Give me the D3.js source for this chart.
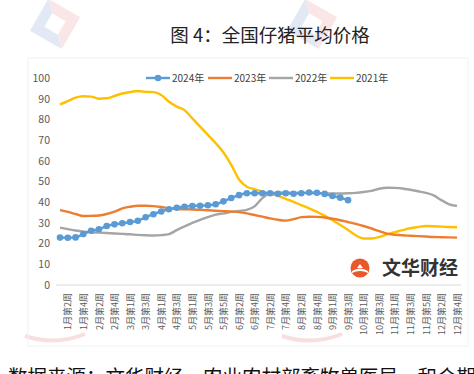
<!DOCTYPE html>
<html>
<head>
<meta charset="utf-8">
<script src="https://cdn.jsdelivr.net/npm/d3@7"></script>
<style>
  body { margin: 0; background: #fff; }
  svg { display: block; font-family: "Noto Sans CJK SC", "Noto Sans", sans-serif; }
</style>
</head>
<body>
<svg id="chart" width="474" height="374"></svg>
<script>
// weekly categories, only every other one carries a visible label
var weeks = [
  "1月第1周","1月第2周","1月第3周","1月第4周","2月第1周","2月第2周","2月第3周","2月第4周",
  "2月第5周","3月第1周","3月第2周","3月第3周","3月第4周","4月第1周","4月第2周","4月第3周",
  "4月第4周","5月第1周","5月第2周","5月第3周","5月第4周","5月第5周","6月第1周","6月第2周",
  "6月第3周","6月第4周","7月第1周","7月第2周","7月第3周","7月第4周","8月第1周","8月第2周",
  "8月第3周","8月第4周","8月第5周","9月第1周","9月第2周","9月第3周","9月第4周","10月第1周",
  "10月第2周","10月第3周","10月第4周","11月第1周","11月第2周","11月第3周","11月第4周","11月第5周",
  "12月第1周","12月第2周","12月第3周","12月第4周"
];
var yTicks = [0, 10, 20, 30, 40, 50, 60, 70, 80, 90, 100];

var v2024 = [22.9, 22.8, 23.0, 24.6, 26.2, 26.9, 28.5, 29.3, 29.8, 30.4, 31.0, 32.7, 34.2, 35.5, 36.6, 37.3,
  37.8, 38.2, 38.3, 38.5, 39.0, 40.4, 42.0, 43.4, 44.3, 44.3, 44.3, 44.3, 44.1, 44.3, 44.1, 44.3,
  44.7, 44.6, 44.0, 43.0, 42.2, 41.0];
var v2023 = [36.2, 35.3, 34.3, 33.3, 33.4, 33.6, 34.3, 35.4, 37.0, 37.8, 38.3, 38.3, 38.1, 37.7, 37.0, 36.7,
  36.6, 36.5, 36.3, 36.1, 35.9, 35.7, 35.5, 35.2, 34.6, 33.8, 33.0, 32.2, 31.5, 31.1, 31.8, 32.8,
  33.0, 32.9, 32.6, 32.0, 31.3, 30.4, 29.5, 28.5, 27.3, 26.0, 24.8, 24.3, 24.0, 23.8, 23.6, 23.4,
  23.2, 23.1, 23.0, 22.9];
var v2022 = [27.7, 27.0, 26.3, 25.8, 25.5, 25.3, 25.1, 24.9, 24.7, 24.5, 24.2, 24.0, 23.9, 24.1, 24.6, 26.5,
  28.3, 30.0, 31.5, 32.8, 34.0, 34.6, 35.3, 35.8, 36.3, 38.0, 42.0, 44.3, 44.6, 44.7, 44.6, 44.5,
  44.4, 44.3, 44.2, 44.2, 44.2, 44.3, 44.5, 44.9, 45.5, 46.5, 47.0, 46.9, 46.6, 46.0, 45.3, 44.5,
  43.3, 41.0, 39.0, 38.2];
var v2021 = [87.2, 88.8, 90.5, 91.2, 91.0, 90.0, 90.2, 91.3, 92.5, 93.2, 93.7, 93.3, 93.2, 91.8, 88.5, 86.2,
  84.5, 80.5, 76.5, 72.5, 68.5, 64.0, 58.0, 51.0, 47.5, 46.3, 45.2, 44.2, 43.0, 41.6, 40.2, 38.6,
  37.0, 35.3, 33.5, 31.3, 29.0, 26.6, 24.0, 22.5, 22.5, 23.2, 24.5, 25.5, 26.5, 27.4, 28.0, 28.5,
  28.4, 28.2, 28.0, 27.9];

var seriesNames = ["2024年", "2023年", "2022年", "2021年"];
var seriesColors = ["#5b9bd5", "#ed7d31", "#a5a5a5", "#ffc000"];
var series = [v2024, v2023, v2022, v2021];

var svg = d3.select("#chart");

// faint page watermarks
[[55, 24], [312, 24]].forEach(function(p) {
  var w = svg.append("g").attr("transform", "translate(" + p[0] + "," + p[1] + ") rotate(-15)").attr("opacity", 0.14);
  w.append("path").attr("d", "M0,-26 L26,0 L0,26 Z").attr("fill", "#e0505a");
  w.append("path").attr("d", "M0,-26 L-26,0 L0,26 Z").attr("fill", "#3c6cc0");
  w.append("path").attr("d", "M0,-11 L11,0 L0,11 L-11,0 Z").attr("fill", "#fff");
});
[[55, 336], [312, 336]].forEach(function(p) {
  svg.append("path")
    .attr("d", "M" + (p[0] - 30) + "," + p[1] + " Q" + p[0] + "," + (p[1] + 10) + " " + (p[0] + 30) + "," + (p[1] - 2))
    .attr("fill", "none").attr("stroke", "#f9dede").attr("stroke-width", 4);
});

// chart frame (very faint)
svg.append("rect")
  .attr("x", 28).attr("y", 58).attr("width", 440).attr("height", 288)
  .attr("fill", "none").attr("stroke", "#f2f2f2");

// title
svg.append("text")
  .attr("x", 270).attr("y", 42)
  .attr("text-anchor", "middle")
  .style("font-size", "18.5px")
  .style("fill", "#222")
  .text("图 4：全国仔猪平均价格");

var x = d3.scalePoint().domain(weeks).range([60, 457]);
var y = d3.scaleLinear().domain([0, 100]).range([285, 78]);
var step = x.step();

// y axis
var gy = svg.append("g")
  .attr("transform", "translate(57,0)")
  .call(d3.axisLeft(y).tickValues(yTicks).tickSize(0).tickPadding(7));
gy.select(".domain").remove();
gy.selectAll("text")
  .style("font-size", "10.5px")
  .style("fill", "#595959")
  .style("font-family", "'Noto Sans CJK SC', sans-serif");

// x axis
var gx = svg.append("g")
  .attr("transform", "translate(0,285)")
  .call(d3.axisBottom(x).tickValues(weeks.filter(function(d, i) { return i % 2 === 1; })).tickSize(0));
gx.select(".domain").remove();
gx.append("line")
  .attr("x1", x.range()[0] - step / 2).attr("x2", x.range()[1] + step / 2)
  .attr("stroke", "#d9d9d9");
gx.selectAll("text")
  .attr("transform", "rotate(-90)")
  .attr("text-anchor", "end")
  .attr("x", -8).attr("y", 0).attr("dy", "0.35em")
  .style("font-size", "9px")
  .style("fill", "#595959")
  .style("font-family", "'Noto Sans CJK SC', sans-serif");

// lines, 2024 drawn last so its dots sit on top
var line = d3.line()
  .x(function(d, i) { return x(weeks[i]); })
  .y(function(d) { return y(d); })
  .curve(d3.curveMonotoneX);

[3, 2, 1, 0].forEach(function(k) {
  svg.append("path")
    .datum(series[k])
    .attr("d", line)
    .attr("fill", "none")
    .attr("stroke", seriesColors[k])
    .attr("stroke-width", 2.4);
});

svg.append("g").selectAll("circle")
  .data(v2024)
  .enter().append("circle")
  .attr("cx", function(d, i) { return x(weeks[i]); })
  .attr("cy", function(d) { return y(d); })
  .attr("r", 3.3)
  .attr("fill", seriesColors[0]);

// legend
var legendX = [146, 208, 269, 330];
var legend = svg.append("g").attr("transform", "translate(0,78)");
seriesNames.forEach(function(name, k) {
  var g = legend.append("g").attr("transform", "translate(" + legendX[k] + ",0)");
  g.append("line").attr("x1", 0).attr("x2", 24)
    .attr("stroke", seriesColors[k]).attr("stroke-width", 2.4);
  if (k === 0) g.append("circle").attr("cx", 12).attr("r", 3.3).attr("fill", seriesColors[0]);
  g.append("text").attr("x", 26).attr("dy", "0.35em")
    .style("font-size", "10px").style("fill", "#404040")
    .text(name);
});

// watermark logo
var logo = svg.append("g").attr("transform", "translate(360,268)");
logo.append("circle").attr("r", 9.5).attr("fill", "#e8582a");
logo.append("path").attr("d", "M-8,3 Q0,-2 8,3 L8,5 Q0,1 -8,5 Z").attr("fill", "#fff");
logo.append("path").attr("d", "M-3,0 L0,-4 L3,0 Z").attr("fill", "#fff");
logo.append("text").attr("x", 22).attr("dy", "0.36em")
  .style("font-size", "19px").style("font-weight", "bold").style("fill", "#333")
  .text("文华财经");

// source note (cut by the frame edge, as in the original)
svg.append("text")
  .attr("x", 8).attr("y", 384)
  .style("font-size", "19.5px")
  .style("fill", "#111")
  .text("数据来源：文华财经、农业农村部畜牧兽医局，和合期货");
</script>
</body>
</html>
